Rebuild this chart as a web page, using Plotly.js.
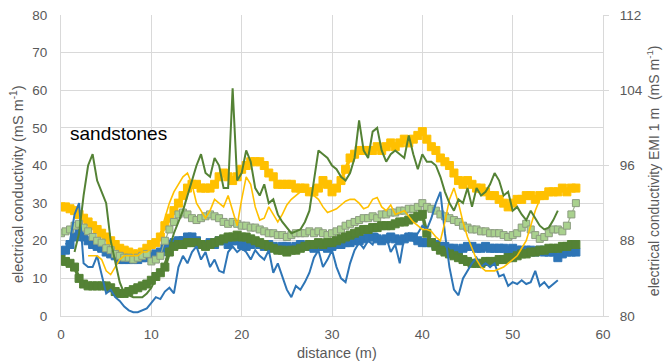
<!DOCTYPE html>
<html>
<head>
<meta charset="utf-8">
<script src="https://cdn.plot.ly/plotly-3.0.1.min.js"></script>
<style>html,body{margin:0;padding:0;background:#fff;}#chart{width:663px;height:364px;}</style>
</head>
<body>
<div id="chart"></div>
<script>
// distance (m), shared by all series
const distance = [0,0.5,1,1.5,2,2.5,3,3.5,4,4.5,5,5.5,6,6.5,7,7.5,8,8.5,9,9.5,
10,10.5,11,11.5,12,12.5,13,13.5,14,14.5,15,15.5,16,16.5,17,17.5,18,18.5,19,19.5,
20,20.5,21,21.5,22,22.5,23,23.5,24,24.5,25,25.5,26,26.5,27,27.5,28,28.5,29,29.5,
30,30.5,31,31.5,32,32.5,33,33.5,34,34.5,35,35.5,36,36.5,37,37.5,38,38.5,39,39.5,
40,40.5,41,41.5,42,42.5,43,43.5,44,44.5,45,45.5,46,46.5,47,47.5,48,48.5,49,49.5,
50,50.5,51,51.5,52,52.5,53,53.5,54,54.5,55,55.5,56,56.5,57];

// square-marker series (EMI)
const orangeSquares = [29,29,28.5,28,27,26,25,24,23,22,21,20,19,18,17.5,17,16.5,16.5,17,18,
19,19.5,21,24,26,28,30,32,34,35,35,34,34,34,35,37,38,37,36,37,
39,40,41,41,41,40,38,37,35,35,35,35,34,34,34,33,33,34,36,35,
33,34,36,39,42,43,44,44,44,44,45,44,45,46,45,46,47,46,47,48,
49,47,45,44,42,41,40,38,36,35,36,35,34,34,33,32,32,31,30,29,
30,31,31,32,32,31,32,32,33,33,33,34,33,34,34];

const blueSquares = [17,17.5,19,21,22,21,20,19,18.5,18,17,16.5,16,15,15,15,15,15,15.5,15.5,
16,16.5,17,18,19,19.5,20,20,21,21,20,19,19,19.5,19,20,20,19,20,20,
19,18.5,19,19.5,19,18.5,19,18.5,18,18.5,18.5,18,18.5,19,18.5,18.5,18,18.5,18.5,18,
18.5,19,19,19.5,19.5,20,20,20.5,21,21,20.5,20,20.5,21,20.5,20,20.5,21,21,20,
19.5,19.5,19.5,19,18.5,18.5,18,18,17.5,18,18.5,18.5,18,18,18.5,18,18,18,18,17.5,
18,17.5,17.5,17.5,17.5,17,17.5,17,17,17,15.5,16.5,17,17,17];

const lightGreenSquares = [22,22.5,23,24,24.5,23.5,22.5,21,20,19.5,18,17.5,16.5,16,15.5,15.5,15,15.5,16,16.5,
14.5,15,16,20,23,25,27,27.5,27,26,25.5,26,26.5,27,26.5,26,25,24.5,25,24.5,
24,24,23.5,23.5,23,22.5,22,22,21.5,21.5,21,21.5,22,22,22,22.5,22,22.5,22,21.5,
22,22.5,23,24,24.5,25,25.5,26,26,26.5,26,27,27,27.5,27.5,28,28,28.5,28.5,29,
30,29,28.5,28,27,26.5,26,25.5,25,24,23.5,23,23,22.5,22.5,22,22,22,21.5,21,
21.5,22,23.5,24.5,23,21.5,20.5,21,22,23,23,22.5,24,27,30];

const greenSquares = [15,14.5,14,13,10,8.5,8,8,8,8,8,7.5,6.5,6,6,6.5,7,7.5,8,8.5,
9.5,10.5,11.5,13,17,18.5,19,19,19.5,19.5,19.5,19,18.5,19,19.5,20,20.5,21,21,21.5,
21,21,20.5,20,19.5,19,18.5,18,17.5,17.5,17,17.5,17.5,18,18.5,19,19,19.5,19,19.5,
19.5,20,20.5,21,21.5,22,22.5,23,23,23.5,23.5,24,24,24,24.5,25,25,25.5,26,26.5,
27,22,19.5,18.5,17.5,17,16.5,16,15.5,15,14.5,14,14,14,14.5,14.5,14.5,15,15,15.5,
15.5,16,16.5,16.5,17,17,17.5,17.5,18,18,18,18.5,18.5,19,19];

// thin-line series
const blueLine = [null,19,20,27,30,14,13,13,16,11,6,7,5,4,2.5,1.5,1,1,1.5,2,
3.5,5,4.5,6.5,7.5,6,13,16,14,17,18.5,15,17,13,15,12,11.5,17,18.5,17,
18,17,15,17.5,16,15,17.5,11.5,14,10.5,7,5,8,7,9,11.5,15.5,17.5,13,15,
17.5,13,10,9,14,17.5,19.5,18,20,19,22,20,21,17,19,14,21,22,20,22,
24,23,26,30,33,22,13,7,5.5,10,12,14,15.5,13,14,13,14,10.5,11,8,
9,8.5,9.5,8.5,9,12,8,9,7.5,8.5,9.5,null,null,null,null];

const orangeLine = [null,null,null,null,null,null,16,16,16,15,12,11,13,15,16,16,16,16,17,17,
18,19,22,26,30,33,35,37,38,35,30,28,26,28,31,30,29,32,28,24,
31,37,35,29,25.5,26,29,27,25,27,29.5,31,32,33,33,33,32,31,29,27.5,
28,28.5,29.5,30.5,31,31,30,28.5,29,31,31.5,29,28,29.5,27,27.5,28,26.5,25,24,
23,23,22.5,21,20,25,31,34,30,25,21,18,15,13,12,12,12,12.5,13,14,
15,16,18,20,24,28,31,33,34,null,null,null,null,null,null];

const greenLine = [null,null,null,17,22,32,40,43,36,33,30,20,14,9,6,5.5,5,5,5,6,
7.5,10,12,14,18,22,25,28,32,36,40,43,38,37,42,40,34,34,60.5,36,
38,44,41,34,32,35,30,31,27,25,23.5,22,22.5,23,25,28,36,44,43,42,
40,39,37,36,38,42,52,44,42,49,50,44,41,43,44,43,42,48,43,39,
43,41,41,40,37,33,30,28,31,30,34,29,34,32,33,35,38,36,32,33,
28,29,27,25.5,28,26,24,23,23.5,25.5,28,null,null,null,null];

const xTicks = [0,10,20,30,40,50,60];
const yTicks = [0,10,20,30,40,50,60,70,80];
const y2Ticks = [80,88,96,104,112];

const FONT = '"Liberation Sans", Arial, sans-serif';
const GRAY = '#595959';
const GRID = '#D9D9D9';

function squares(y, fill, edge, lineColor, lw, size) {
  return {x: distance, y: y, type: 'scatter', mode: 'lines+markers',
    line: {color: lineColor, width: lw},
    marker: {symbol: 'square', size: size, color: fill, line: {color: edge, width: 1}},
    showlegend: false, hoverinfo: 'skip'};
}
function thin(y, color, w) {
  return {x: distance, y: y, type: 'scatter', mode: 'lines',
    line: {color: color, width: w}, showlegend: false, hoverinfo: 'skip'};
}

const data = [
  squares(blueSquares, '#2E75B6', '#2E75B6', '#2E75B6', 3.5, 8),
  squares(orangeSquares, '#FFC000', '#FFC000', '#FFC000', 3.5, 8),
  squares(lightGreenSquares, '#A9D18E', '#8C9C80', '#9DB58A', 1.2, 7),
  squares(greenSquares, '#548235', '#548235', '#548235', 3.5, 8),
  thin(blueLine, '#2E75B6', 2),
  thin(orangeLine, '#FFC000', 1.6),
  thin(greenLine, '#548235', 2),
  {x: [], y: [], yaxis: 'y2', type: 'scatter', mode: 'lines', showlegend: false}
];

const layout = {
  width: 663, height: 364,
  margin: {l: 61, r: 60, t: 15, b: 48},
  paper_bgcolor: '#fff', plot_bgcolor: '#fff',
  font: {family: FONT, color: GRAY, size: 13.5},
  showlegend: false,
  xaxis: {range: [0, 60], tickvals: xTicks, ticktext: xTicks.map(String),
    showgrid: true, gridcolor: GRID, gridwidth: 1,
    showline: true, linecolor: GRID, linewidth: 1, zeroline: false,
    ticks: '', ticklabelstandoff: 6, fixedrange: true,
    tickfont: {family: FONT, size: 13.5, color: GRAY}},
  yaxis: {range: [0, 80], tickvals: yTicks, ticktext: yTicks.map(String),
    showgrid: true, gridcolor: GRID, gridwidth: 1,
    showline: true, linecolor: GRID, linewidth: 1, zeroline: false,
    ticks: '', ticklabelstandoff: 10, fixedrange: true,
    tickfont: {family: FONT, size: 13.5, color: GRAY}},
  yaxis2: {range: [80, 112], tickvals: y2Ticks, ticktext: y2Ticks.map(String),
    overlaying: 'y', side: 'right', anchor: 'x',
    showgrid: false, showline: true, linecolor: GRID, linewidth: 1, zeroline: false,
    ticks: 'outside', ticklen: 5, tickcolor: GRID, ticklabelstandoff: 8, fixedrange: true,
    tickfont: {family: FONT, size: 13.5, color: GRAY}},
  annotations: [
    {text: 'sandstones', xref: 'x', yref: 'y', x: 0.77, y: 48.6,
      xanchor: 'left', yanchor: 'middle', showarrow: false,
      font: {family: FONT, size: 19, color: '#000'}},
    {text: 'distance (m)', xref: 'paper', yref: 'paper', x: 0.509, y: -0.123,
      xanchor: 'center', yanchor: 'middle', showarrow: false,
      font: {family: FONT, size: 14.5, color: GRAY}},
    {text: 'electrical conductivity (mS m<sup>-1</sup>)', xref: 'paper', yref: 'paper',
      x: -0.0812, y: 0.4385, xanchor: 'center', yanchor: 'middle', textangle: -90,
      showarrow: false, font: {family: FONT, size: 14.5, color: GRAY}},
    {text: 'electrical conductivity EMI 1 m  (mS m<sup>-1</sup>)', xref: 'paper', yref: 'paper',
      x: 1.0925, y: 0.4817, xanchor: 'center', yanchor: 'middle', textangle: -90,
      showarrow: false, font: {family: FONT, size: 14, color: GRAY}}
  ]
};

Plotly.newPlot('chart', data, layout, {displayModeBar: false, staticPlot: true});
</script>
</body>
</html>
